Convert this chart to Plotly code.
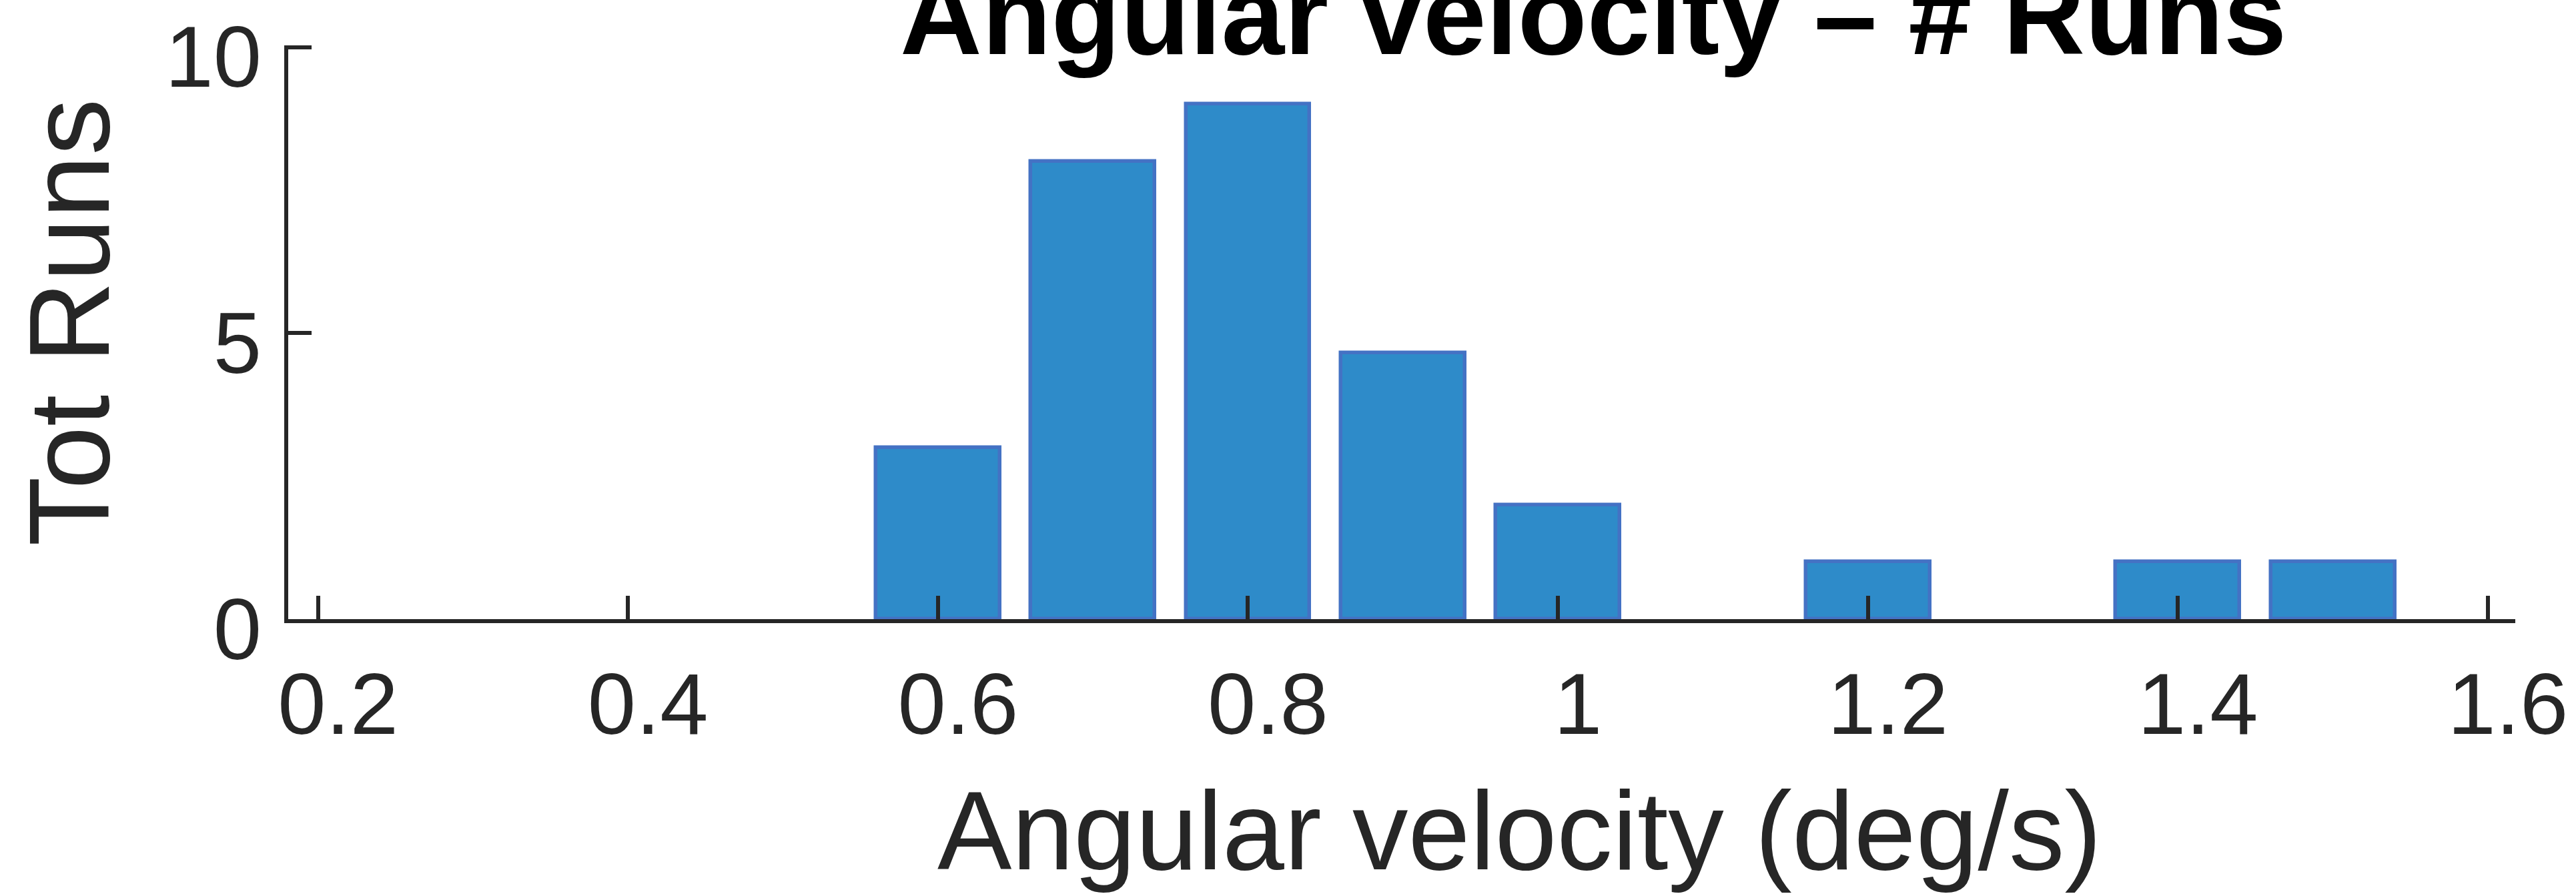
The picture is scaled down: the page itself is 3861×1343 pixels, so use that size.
import plotly.graph_objects as go

# Data
bin_centers = [0.6, 0.7, 0.8, 0.9, 1.0, 1.2, 1.4, 1.5]
tot_runs = [3, 8, 9, 4.65, 2, 1, 1, 1]
x_ticks = [0.2, 0.4, 0.6, 0.8, 1.0, 1.2, 1.4, 1.6]
x_tick_labels = ["0.2", "0.4", "0.6", "0.8", "1", "1.2", "1.4", "1.6"]
y_ticks = [0, 5, 10]
y_tick_labels = ["0", "5", "10"]

title_text = "<b>Angular velocity – # Runs</b>"
x_label = "Angular velocity (deg/s)"
y_label = "Tot Runs"

W, H = 3861, 1343
AX = "#262626"
FONT = "Liberation Sans, Arial, sans-serif"

L, R, T, B = 432, 87, 62, 415
PW = W - L - R
PH = H - T - B

fig = go.Figure()
fig.add_trace(go.Bar(
    x=bin_centers, y=tot_runs, width=0.08,
    marker=dict(color="#2E8BC9", line=dict(color="#4472C4", width=5.5)),
    showlegend=False,
))

fig.update_layout(
    width=W, height=H,
    margin=dict(l=L, r=R, t=T, b=B, pad=0),
    paper_bgcolor="white", plot_bgcolor="white",
    font=dict(family=FONT, color=AX),
    bargap=0,
    xaxis=dict(
        range=[0.1808, 1.6177], tickmode="array", tickvals=x_ticks, ticktext=x_tick_labels,
        showgrid=False, zeroline=False, showline=True, linecolor=AX, linewidth=6,
        ticks="inside", ticklen=35, tickwidth=6, tickcolor=AX,
        tickfont=dict(size=130, color=AX, family=FONT),
        ticklabelstandoff=10, ticklabelshift=30,
    ),
    yaxis=dict(
        range=[0, 10.03], tickmode="array", tickvals=y_ticks, ticktext=y_tick_labels,
        showgrid=False, zeroline=False, showline=True, linecolor=AX, linewidth=6,
        ticks="inside", ticklen=35, tickwidth=6, tickcolor=AX,
        tickfont=dict(size=130, color=AX, family=FONT),
        ticklabelstandoff=8, ticklabelshift=14,
    ),
    annotations=[
        dict(text=title_text, xref="paper", yref="paper", x=(2390 - L) / PW, y=(H - B - 16) / PH,
             xanchor="center", yanchor="middle", showarrow=False,
             font=dict(size=170, color="black", family=FONT)),
        dict(text=x_label, xref="paper", yref="paper", x=(2280 - L) / PW, y=(H - B - 1247) / PH,
             xanchor="center", yanchor="middle", showarrow=False,
             font=dict(size=167, color=AX, family=FONT)),
        dict(text=y_label, xref="paper", yref="paper", x=(104 - L) / PW, y=(H - B - 480) / PH,
             xanchor="center", yanchor="middle", showarrow=False, textangle=-90,
             font=dict(size=170, color=AX, family=FONT)),
    ],
)

fig.write_html("out.html")
